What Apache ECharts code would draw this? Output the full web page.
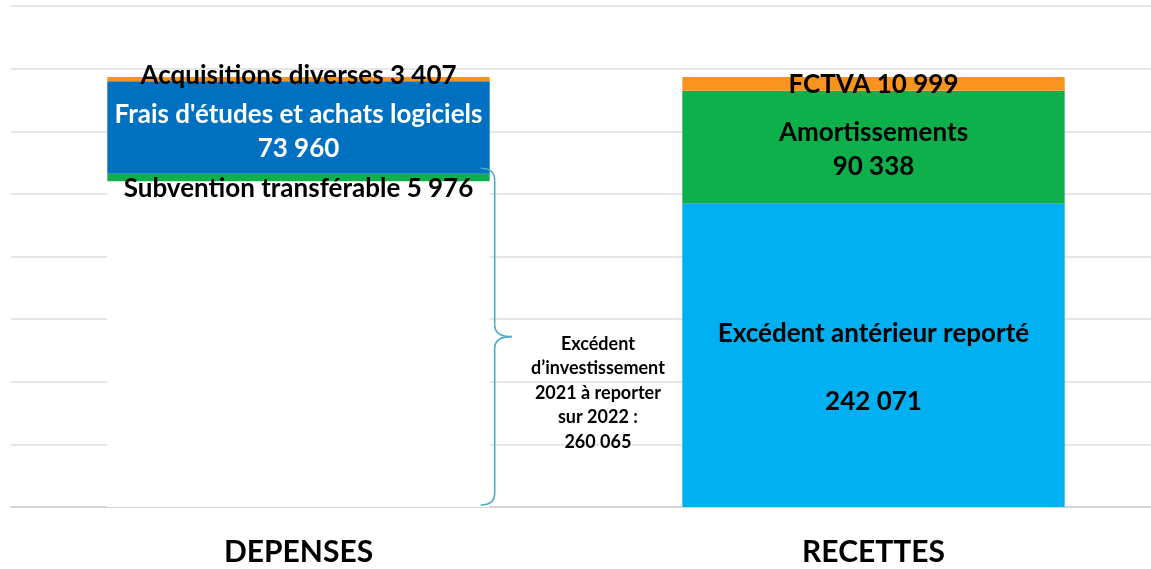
<!DOCTYPE html>
<html>
<head>
<meta charset="utf-8">
<script src="https://cdn.jsdelivr.net/npm/echarts@6/dist/echarts.min.js"></script>
<style>
  html, body { margin: 0; padding: 0; background: #fff; }
  #chart { width: 1151px; height: 569px; }
</style>
</head>
<body>
<div id="chart"></div>
<script>
const categories = ['DEPENSES', 'RECETTES'];
const excedentInvest = [260065, null];
const subvention = [5976, null];
const fraisEtudes = [73960, null];
const acquisitions = [3407, null];
const excedentAnterieur = [null, 242071];
const amortissements = [null, 90338];
const fctva = [null, 10999];
const yMin = 0, yMax = 400000, yInterval = 50000;

const FONT = 'Lato';
const fmt = v => String(v).replace(/\B(?=(\d{3})+(?!\d))/g, ' ');
const BAR_W = 0.665;

function bar(name, data, color, label) {
  return {
    name, type: 'bar', stack: 'total', data,
    barWidth: (BAR_W * 100) + '%',
    itemStyle: { color },
    label: Object.assign({
      show: true, fontFamily: FONT, fontWeight: 'bold', fontSize: 26,
      color: '#000', lineHeight: 34
    }, label || {}),
    emphasis: { disabled: true }
  };
}

const chart = echarts.init(document.getElementById('chart'), null, { renderer: 'canvas' });
chart.setOption({
  animation: false,
  backgroundColor: '#fff',
  grid: { left: 11, width: 1150, top: 6, bottom: 62, outerBoundsMode: 'none', containLabel: false },
  xAxis: {
    type: 'category', data: categories,
    axisTick: { show: false },
    axisLine: { lineStyle: { color: '#d4d4d4', width: 2 } },
    axisLabel: { fontFamily: FONT, fontWeight: 'bold', fontSize: 30, color: '#000', margin: 30 }
  },
  yAxis: {
    type: 'value', min: yMin, max: yMax, interval: yInterval,
    axisLabel: { show: false }, axisLine: { show: false }, axisTick: { show: false },
    splitLine: { lineStyle: { color: '#e6e6e6', width: 2 } }
  },
  series: [
    bar('Excédent d’investissement 2021 à reporter sur 2022', excedentInvest, '#ffffff', {
      position: ['128.3%', '65%'], align: 'center', verticalAlign: 'middle',
      fontSize: 18, lineHeight: 24.5,
      formatter: p => 'Excédent\nd’investissement\n2021 à reporter\nsur 2022 :\n' + fmt(p.value)
    }),
    bar('Excédent antérieur reporté', excedentAnterieur, '#00B0F0', {
      offset: [0, 12],
      formatter: p => p.seriesName + '\n\n' + fmt(p.value)
    }),
    bar('Subvention transférable', subvention, '#0DB04B', {
      position: 'inside', offset: [0, 11],
      formatter: p => p.seriesName + ' ' + fmt(p.value)
    }),
    bar('Amortissements', amortissements, '#0DB04B', {
      offset: [0, 2],
      formatter: p => p.seriesName + '\n' + fmt(p.value)
    }),
    bar('Frais d\'études et achats logiciels', fraisEtudes, '#0070C0', {
      color: '#fff', offset: [0, 4],
      formatter: p => p.seriesName + '\n' + fmt(p.value)
    }),
    bar('FCTVA', fctva, '#F7931E', {
      offset: [0, 1],
      formatter: p => p.seriesName + ' ' + fmt(p.value)
    }),
    bar('Acquisitions diverses', acquisitions, '#F7931E', {
      offset: [0, -3],
      formatter: p => p.seriesName + ' ' + fmt(p.value)
    })
  ]
});

// Curly brace annotation next to the hidden excédent segment, positioned from the axes
const x0 = chart.convertToPixel({ xAxisIndex: 0 }, categories[0]);
const x1 = chart.convertToPixel({ xAxisIndex: 0 }, categories[1]);
const half = BAR_W * (x1 - x0) / 2;
const yTop = chart.convertToPixel({ yAxisIndex: 0 }, excedentInvest[0]) - 13;
const yBot = chart.convertToPixel({ yAxisIndex: 0 }, 0) - 2;
const yMid = (yTop + yBot) / 2;
const xl = x0 + half - 9, xv = x0 + half + 5, xt = x0 + half + 22;
const r = 12;
const st = { fill: null, stroke: '#4BACC6', lineWidth: 1.6 };
const curve = (a, c, b) => ({
  type: 'bezierCurve', z: 100, silent: true, style: st,
  shape: { x1: a[0], y1: a[1], cpx1: c[0], cpy1: c[1], x2: b[0], y2: b[1] }
});
const line = (a, b) => ({
  type: 'line', z: 100, silent: true, style: st,
  shape: { x1: a[0], y1: a[1], x2: b[0], y2: b[1] }
});
chart.setOption({
  graphic: [
    curve([xl, yTop], [xv, yTop], [xv, yTop + r]),
    line([xv, yTop + r], [xv, yMid - r]),
    curve([xv, yMid - r], [xv, yMid], [xt, yMid]),
    curve([xt, yMid], [xv, yMid], [xv, yMid + r]),
    line([xv, yMid + r], [xv, yBot - r]),
    curve([xv, yBot - r], [xv, yBot], [xl, yBot])
  ]
});
</script>
</body>
</html>
